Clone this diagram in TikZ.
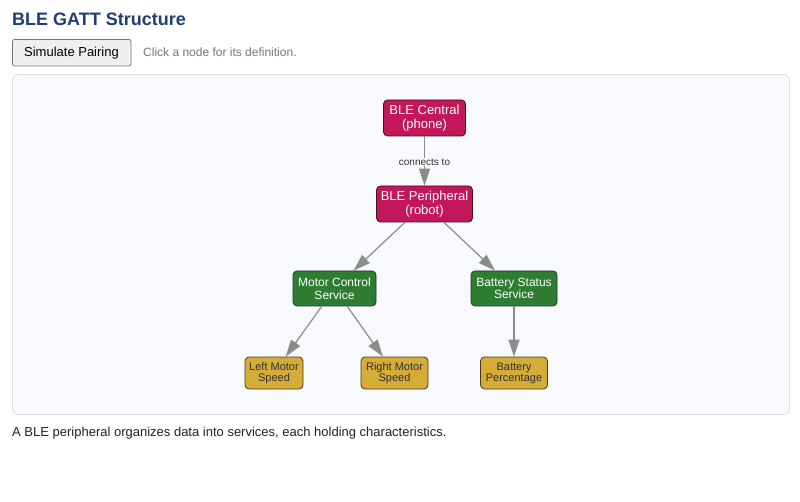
\documentclass[tikz,border=0pt]{standalone}
\usepackage{fontspec}
\setmainfont{Liberation Sans}
\usetikzlibrary{arrows.meta}
\definecolor{titleblue}{HTML}{1D3F73}
\definecolor{btnfill}{HTML}{EFEFEF}
\definecolor{btnline}{HTML}{767676}
\definecolor{hintgray}{HTML}{777777}
\definecolor{panelfill}{HTML}{F8F9FC}
\definecolor{panelline}{HTML}{DDDDDD}
\definecolor{devfill}{HTML}{C2185B}
\definecolor{devline}{HTML}{4A0A22}
\definecolor{svcfill}{HTML}{2E7D32}
\definecolor{svcline}{HTML}{1B3D1D}
\definecolor{chrfill}{HTML}{D4AC37}
\definecolor{chrline}{HTML}{4A3A10}
\definecolor{chrtext}{HTML}{333333}
\definecolor{edgegray}{HTML}{8C8C8C}
\definecolor{captext}{HTML}{222222}
\tikzset{
  gatt/.style={draw, rounded corners=4pt, align=center, inner sep=0pt, line width=0.8pt},
  device/.style={gatt, fill=devfill, draw=devline, text=white, font=\fontsize{13}{13.5}\selectfont, minimum height=36pt},
  service/.style={gatt, fill=svcfill, draw=svcline, text=white, font=\fontsize{12}{12.5}\selectfont, minimum height=35pt},
  charac/.style={gatt, fill=chrfill, draw=chrline, text=chrtext, font=\fontsize{11}{11}\selectfont, minimum height=32pt},
  link/.style={draw=edgegray, line width=1.2pt, -{Triangle[length=17pt,width=11pt]}},
}
\begin{document}
\begin{tikzpicture}[x=1pt,y=-1pt]
\useasboundingbox[fill=white] (0,0) rectangle (800,502);
% header
\node[anchor=base west, inner sep=0pt, text=titleblue, font=\fontsize{18}{20}\selectfont\bfseries] (title) at (12,26) {BLE GATT Structure};
\draw[fill=btnfill, draw=btnline, line width=0.8pt, rounded corners=2pt] (12.5,39.5) rectangle (131,66);
\node[inner sep=0pt, font=\fontsize{13}{14}\selectfont, anchor=base] (btn) at (71.5,57) {Simulate Pairing};
\node[anchor=base west, inner sep=0pt, text=hintgray, font=\fontsize{12}{13}\selectfont] (hint) at (143,56.5) {Click a node for its definition.};
% panel
\draw[fill=panelfill, draw=panelline, line width=0.8pt, rounded corners=6pt] (12.5,74.5) rectangle (789.5,414.5);
% nodes
\node[device, minimum width=82pt] (central) at (424.5,118) {BLE Central\\(phone)};
\node[device, minimum width=96pt] (periph) at (424.5,204) {BLE Peripheral\\(robot)};
\node[service, minimum width=83pt] (motor) at (334.5,288.5) {Motor Control\\Service};
\node[service, minimum width=86pt] (battsvc) at (514,288.5) {Battery Status\\Service};
\node[charac, minimum width=58pt] (left) at (274,373) {Left Motor\\Speed};
\node[charac, minimum width=67pt] (right) at (394.5,373) {Right Motor\\Speed};
\node[charac, minimum width=67pt] (battpct) at (514,373) {Battery\\Percentage};
% edges
\draw[link] (central) -- node[fill=panelfill, inner sep=1pt, text=chrtext, font=\fontsize{10}{11}\selectfont, pos=0.52] {connects to} (periph);
\draw[link] (periph) -- (motor);
\draw[link] (periph) -- (battsvc);
\draw[link] (motor) -- (left);
\draw[link] (motor) -- (right);
\draw[link] (battsvc) -- (battpct);
% caption
\node[anchor=base west, inner sep=0pt, text=captext, font=\fontsize{13}{14}\selectfont] (caption) at (12,436.5) {A BLE peripheral organizes data into services, each holding characteristics.};
\end{tikzpicture}
\end{document}
